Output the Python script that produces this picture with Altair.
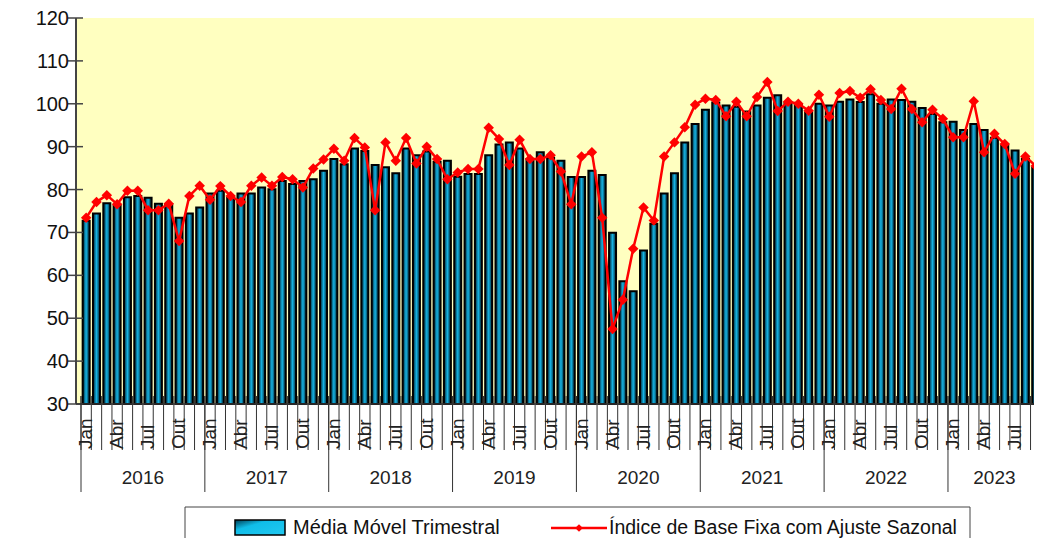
import altair as alt
import pandas as pd

years = [2016, 2017, 2018, 2019, 2020, 2021, 2022, 2023]
month_names = ["Jan", "Fev", "Mar", "Abr", "Mai", "Jun", "Jul", "Ago", "Set", "Out", "Nov", "Dez"]
label_months = ["Jan", "Abr", "Jul", "Out"]
y_ticks = [30, 40, 50, 60, 70, 80, 90, 100, 110, 120]

# Média Móvel Trimestral (bars)
media_movel = [
    72.7, 74.4, 76.8, 76.2, 78.2, 78.5, 78.1, 76.7, 76.6, 73.4, 74.4, 75.8,   # 2016
    79.1, 79.7, 78.1, 79.1, 79.1, 80.5, 80.1, 82.0, 81.3, 82.0, 82.4, 84.4,   # 2017
    87.1, 85.9, 89.6, 89.0, 85.7, 85.2, 83.8, 89.6, 88.0, 88.9, 86.5, 86.7,   # 2018
    83.0, 83.6, 83.6, 88.0, 90.5, 91.0, 89.6, 87.1, 88.7, 87.4, 86.7, 82.9,   # 2019
    82.9, 84.4, 83.4, 69.9, 58.6, 56.3, 65.8, 72.0, 79.1, 83.8, 91.0, 95.3,   # 2020
    98.6, 100.3, 99.6, 99.3, 98.2, 99.6, 101.4, 102.0, 100.2, 99.7, 98.0, 100.0,  # 2021
    99.6, 100.5, 101.0, 100.4, 102.2, 100.0, 101.0, 100.9, 100.5, 99.0, 97.6, 95.7,  # 2022
    95.8, 93.9, 95.3, 93.9, 92.1, 90.3, 89.1, 87.1, 85.0,                      # 2023
]

# Índice de Base Fixa com Ajuste Sazonal (line)
indice = [
    73.4, 77.1, 78.7, 76.6, 79.7, 79.7, 75.2, 75.2, 76.7, 68.0, 78.5, 80.9,   # 2016
    77.6, 80.8, 78.5, 77.1, 80.9, 82.8, 80.9, 82.9, 82.4, 80.5, 84.9, 87.0,   # 2017
    89.5, 86.7, 92.0, 89.8, 75.2, 91.0, 86.7, 92.0, 86.1, 90.0, 87.1, 82.4,   # 2018
    84.0, 84.8, 84.8, 94.4, 91.8, 85.7, 91.6, 87.1, 87.1, 88.0, 84.2, 76.6,   # 2019
    87.7, 88.7, 73.4, 47.5, 54.3, 66.2, 75.8, 72.8, 87.7, 91.0, 94.5, 99.8,   # 2020
    101.2, 100.9, 97.1, 100.5, 97.1, 101.6, 105.1, 98.3, 100.5, 100.0, 98.4, 102.1,  # 2021
    97.0, 102.5, 103.0, 101.4, 103.4, 100.9, 98.8, 103.5, 98.8, 95.7, 98.6, 96.5,  # 2022
    92.2, 92.2, 100.6, 88.7, 93.0, 90.6, 83.7, 87.7, 85.5,                     # 2023
]

legend_bar = "Média Móvel Trimestral"
legend_line = "Índice de Base Fixa com Ajuste Sazonal"

n = len(media_movel)
W = 958          # visible plot width (the plot continues past the right edge)
H = 386
MONTH_PX = 10.43
x_max = W / MONTH_PX
FONT = "Liberation Sans"

rows = []
for i in range(n):
    rows.append({"pos": i + 0.5, "month": month_names[i % 12], "year": years[i // 12],
                 "mm": media_movel[i], "idx": indice[i]})
df = pd.DataFrame(rows)
df_lab = df[df["month"].isin(label_months)]

year_rows = []
for k, yv in enumerate(years):
    start = k * 12
    cnt = min(12, n - start)
    year_rows.append({"year": str(yv), "center": start + cnt / 2})
df_year = pd.DataFrame(year_rows)

df_mticks = pd.DataFrame({"k": list(range(0, n + 1))})
df_ysep = pd.DataFrame({"k": [k * 12 for k in range(len(years))] + [n]})
df_ytick = pd.DataFrame({"v": y_ticks, "lab": [str(v) for v in y_ticks]})
one = pd.DataFrame({"a": [0]})

xs = alt.Scale(domain=[0, x_max], nice=False, zero=False)
ys = alt.Scale(domain=[30, 120], nice=False, zero=False)

grad_bar = alt.LinearGradient(
    gradient="linear", x1=0, y1=0, x2=1, y2=0,
    stops=[alt.GradientStop(color="#001c28", offset=0),
           alt.GradientStop(color="#16b4e4", offset=0.5),
           alt.GradientStop(color="#001c28", offset=1)])
grad_leg = alt.LinearGradient(
    gradient="linear", x1=0, y1=0, x2=1, y2=1,
    stops=[alt.GradientStop(color="#003e55", offset=0),
           alt.GradientStop(color="#10bde8", offset=0.35),
           alt.GradientStop(color="#22c8f0", offset=1)])

bars = alt.Chart(df).mark_bar(width=7, color=grad_bar, stroke="black", strokeWidth=2).encode(
    x=alt.X("pos:Q", scale=xs, axis=None),
    y=alt.Y("mm:Q", scale=ys, axis=None),
    y2=alt.datum(30),
)

yaxis_line = alt.Chart(one).mark_rule(color="#444", strokeWidth=2).encode(
    x=alt.value(0), y=alt.value(0), y2=alt.value(H))

yticks = alt.Chart(df_ytick).mark_rule(color="#444", strokeWidth=1.5).encode(
    x=alt.value(-8), x2=alt.value(7),
    y=alt.Y("v:Q", scale=ys, axis=None),
)

ylabels_num = alt.Chart(df_ytick).mark_text(align="right", baseline="middle", font=FONT,
                                            fontSize=20, dy=1, color="#111").encode(
    x=alt.value(-7), y=alt.Y("v:Q", scale=ys, axis=None), text="lab:N")

baseline = alt.Chart(one).mark_rule(color="#333", strokeWidth=1.5).encode(
    x=alt.value(0), x2=alt.value(W), y=alt.value(H))

mticks = alt.Chart(df_mticks).mark_rule(color="#333", strokeWidth=1).encode(
    x=alt.X("k:Q", scale=xs, axis=None), y=alt.value(H - 8), y2=alt.value(432))

ysep = alt.Chart(df_ysep).mark_rule(color="#333", strokeWidth=1).encode(
    x=alt.X("k:Q", scale=xs, axis=None), y=alt.value(H - 8), y2=alt.value(474))

mlabels = alt.Chart(df_lab).mark_text(angle=270, align="left", baseline="middle", font=FONT,
                                      fontSize=19, color="#222").encode(
    x=alt.X("pos:Q", scale=xs, axis=None), y=alt.value(431), text="month:N")

ylabels = alt.Chart(df_year).mark_text(align="center", baseline="middle", font=FONT,
                                       fontSize=19, color="#222").encode(
    x=alt.X("center:Q", scale=xs, axis=None), y=alt.value(460), text="year:N")

line = alt.Chart(df).mark_line(color="#FF0000", strokeWidth=2.5).encode(
    x=alt.X("pos:Q", scale=xs, axis=None), y=alt.Y("idx:Q", scale=ys, axis=None))

points = alt.Chart(df).mark_point(shape="diamond", filled=True, size=110, color="#FF0000",
                                  opacity=1).encode(
    x=alt.X("pos:Q", scale=xs, axis=None), y=alt.Y("idx:Q", scale=ys, axis=None))

# legend (drawn manually)
leg_box = alt.Chart(one).mark_rect(fill="white", stroke="#444", strokeWidth=1).encode(
    x=alt.value(109), x2=alt.value(894), y=alt.value(489), y2=alt.value(545))
leg_sw = alt.Chart(one).mark_rect(color=grad_leg, stroke="black", strokeWidth=1.5).encode(
    x=alt.value(159), x2=alt.value(209), y=alt.value(502), y2=alt.value(517))
leg_t1 = alt.Chart(one).mark_text(align="left", baseline="middle", font=FONT, fontSize=20,
                                  color="#111").encode(
    x=alt.value(217), y=alt.value(510), text=alt.value(legend_bar))
leg_ln = alt.Chart(one).mark_rule(color="#FF0000", strokeWidth=2.5).encode(
    x=alt.value(475), x2=alt.value(531), y=alt.value(510))
leg_pt = alt.Chart(one).mark_point(shape="diamond", filled=True, size=60, color="#FF0000",
                                   opacity=1).encode(x=alt.value(503), y=alt.value(510))
leg_t2 = alt.Chart(one).mark_text(align="left", baseline="middle", font=FONT, fontSize=19.5,
                                  color="#111").encode(
    x=alt.value(533), y=alt.value(510), text=alt.value(legend_line))

chart = alt.layer(
    bars, yaxis_line, yticks, ylabels_num, baseline, mticks, ysep, mlabels, ylabels, line, points,
    leg_box, leg_sw, leg_t1, leg_ln, leg_pt, leg_t2,
).properties(
    width=W, height=H,
    padding={"left": 68, "top": 10, "right": 0, "bottom": 134},
    autosize=alt.AutoSizeParams(type="none"),
    background="white",
).configure_view(stroke=None, fill="#FFFFC0")

chart.save("out.html", embed_options={"renderer": "svg", "actions": False})
